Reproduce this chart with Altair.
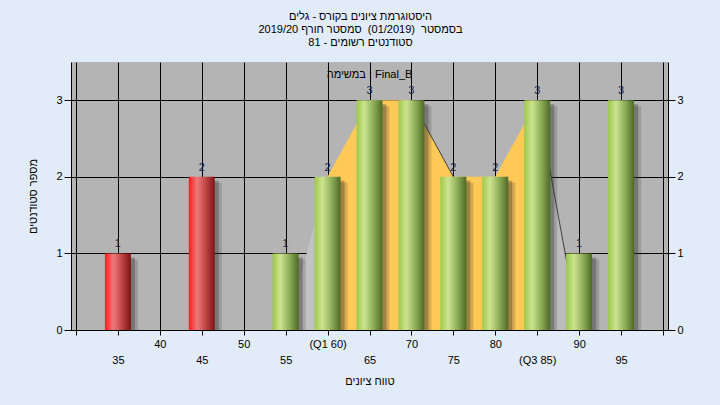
import altair as alt
import pandas as pd

# ---- data ----
scores = [35, 45, 55, 60, 65, 70, 75, 80, 85, 90, 95]
counts = [1, 2, 1, 2, 3, 3, 2, 2, 3, 1, 3]
pass_mark = 55

spread_x = [55, 60, 65, 70, 75, 80, 85, 90]
spread_y = [0, 2, 3, 3, 2, 2, 3, 0]
q1, q3 = 60, 85

x_ticks = [30, 35, 40, 45, 50, 55, 60, 65, 70, 75, 80, 85, 90, 95, 100]
y_ticks = [0, 1, 2, 3]

RLE, PDF = "\u202b", "\u202c"
NB = "\u00a0"
title_lines = [
    RLE + "היסטוגרמת ציונים בקורס - גלים" + PDF,
    RLE + "בסמסטר " + NB + "(01/2019) " + NB + "סמסטר חורף 2019/20" + PDF,
    RLE + "סטודנטים רשומים - 81" + PDF,
]
y_title = "מספר סטודנטים"
x_title = "טווח ציונים"
task_label = "במשימה : Final_B"

FONT = "Liberation Sans"
W, H = 597, 268

bars = pd.DataFrame({"score": scores, "count": counts})

rows = []
for xv, yv in zip(spread_x, spread_y):
    if xv <= q1:
        rows.append({"score": xv, "count": yv, "part": "low"})
    if q1 <= xv <= q3:
        rows.append({"score": xv, "count": yv, "part": "iqr"})
    if xv >= q3:
        rows.append({"score": xv, "count": yv, "part": "high"})
area_df = pd.DataFrame(rows)

edge_rows = []
for i in range(len(spread_x) - 1):
    if spread_y[i + 1] < spread_y[i]:
        edge_rows.append({"score": spread_x[i], "count": spread_y[i], "seg": i})
        edge_rows.append({"score": spread_x[i + 1], "count": spread_y[i + 1], "seg": i})
edge_df = pd.DataFrame(edge_rows)

label_expr = (
    f"(datum.value == 30 || datum.value == 100) ? '' : "
    f"(datum.value % 10 == 5 ? ['', datum.value == {q3} ? '(Q3 {q3})' : datum.label] : "
    f"(datum.value == {q1} ? '(Q1 {q1})' : datum.label))"
)

x_axis = alt.Axis(
    values=x_ticks, labelExpr=label_expr, grid=True, gridColor="#000000", gridWidth=1,
    gridOpacity=1, domainColor="#000000", tickColor="#000000", tickSize=5,
    labelPadding=3, labelLineHeight=16, labelOverlap=False, labelFlush=False,
    labelBaseline="top", title=x_title, titleY=51, titleBaseline="middle",
)
y_axis = alt.Axis(
    values=y_ticks, grid=True, gridColor="#000000", gridWidth=1, gridOpacity=1,
    domainColor="#000000", tickColor="#000000", tickSize=7, labelPadding=2,
    title=y_title, titleX=-38, titleY=H / 2, titleBaseline="middle", titleAlign="center",
)
x_scale = alt.Scale(domain=[30, 100], nice=False, zero=False)
y_scale = alt.Scale(domain=[0, 3.5], nice=False)

X = alt.X("score:Q", scale=x_scale, axis=x_axis)
Y = alt.Y("count:Q", scale=y_scale, axis=y_axis, stack=None)

green = alt.Gradient(
    gradient="linear", x1=0, x2=1, y1=0, y2=0,
    stops=[
        alt.GradientStop(color="#9CC84A", offset=0),
        alt.GradientStop(color="#CDE48F", offset=0.3),
        alt.GradientStop(color="#88A855", offset=0.68),
        alt.GradientStop(color="#4E6924", offset=1),
    ],
)
red = alt.Gradient(
    gradient="linear", x1=0, x2=1, y1=0, y2=0,
    stops=[
        alt.GradientStop(color="#FF1A1A", offset=0),
        alt.GradientStop(color="#EC7A7A", offset=0.32),
        alt.GradientStop(color="#BC4040", offset=0.68),
        alt.GradientStop(color="#7C1414", offset=1),
    ],
)

area = alt.Chart(area_df).mark_area(interpolate="linear").encode(
    x=X, y=Y,
    color=alt.Color("part:N", scale=alt.Scale(domain=["low", "iqr", "high"],
                                              range=["#C2C2C2", "#FFC957", "#BCBCBC"]),
                    legend=None),
)
edges = alt.Chart(edge_df).mark_line(color="#2A2A2A", strokeWidth=1, opacity=0.85).encode(
    x=X, y=Y, detail="seg:N"
)
shadow1 = alt.Chart(bars).mark_bar(size=26, color="#333333", opacity=0.35, xOffset=4, yOffset=4).encode(x=X, y=Y)
shadow2 = alt.Chart(bars).mark_bar(size=26, color="#333333", opacity=0.2, xOffset=7, yOffset=6).encode(x=X, y=Y)
bars_fail = alt.Chart(bars).transform_filter(f"datum.score < {pass_mark}").mark_bar(size=26, color=red).encode(x=X, y=Y)
bars_pass = alt.Chart(bars).transform_filter(f"datum.score >= {pass_mark}").mark_bar(size=26, color=green).encode(x=X, y=Y)
values_txt = alt.Chart(bars).mark_text(
    dy=-6, baseline="alphabetic", font=FONT, fontSize=11, color="#14224A"
).encode(x=X, y=Y, text="count:Q")
task_txt = alt.Chart(pd.DataFrame({"t": [task_label]})).mark_text(
    font=FONT, fontSize=11, color="#000000"
).encode(text="t:N", x=alt.value(W / 2), y=alt.value(13))

inner = alt.layer(area, edges, shadow1, shadow2, bars_fail, bars_pass, values_txt, task_txt)

right_axis = alt.Chart(bars).mark_point(opacity=0).encode(
    x=X,
    y=alt.Y("count:Q", scale=y_scale,
            axis=alt.Axis(orient="right", values=y_ticks, grid=False, domainColor="#000000",
                          tickColor="#000000", tickSize=7, labelPadding=2, title=None)),
)

chart = alt.layer(inner, right_axis).resolve_scale(y="independent").properties(
    width=W, height=H,
    autosize=alt.AutoSizeParams(type="none"),
    padding={"left": 71, "top": 62, "right": 720 - 71 - W, "bottom": 405 - 62 - H},
    background="#E2ECF8",
    title=alt.Title(title_lines, anchor="middle", font=FONT, fontSize=11, fontWeight="normal",
                    color="#000000", offset=14, dx=-9, lineHeight=13),
).configure_view(fill="#B4B4B4", stroke=None).configure_axis(
    labelFont=FONT, labelFontSize=11, labelColor="#000000",
    titleFont=FONT, titleFontSize=11, titleFontWeight="normal", titleColor="#000000",
)

chart.save("out.html", embed_options={"renderer": "svg", "actions": False})
